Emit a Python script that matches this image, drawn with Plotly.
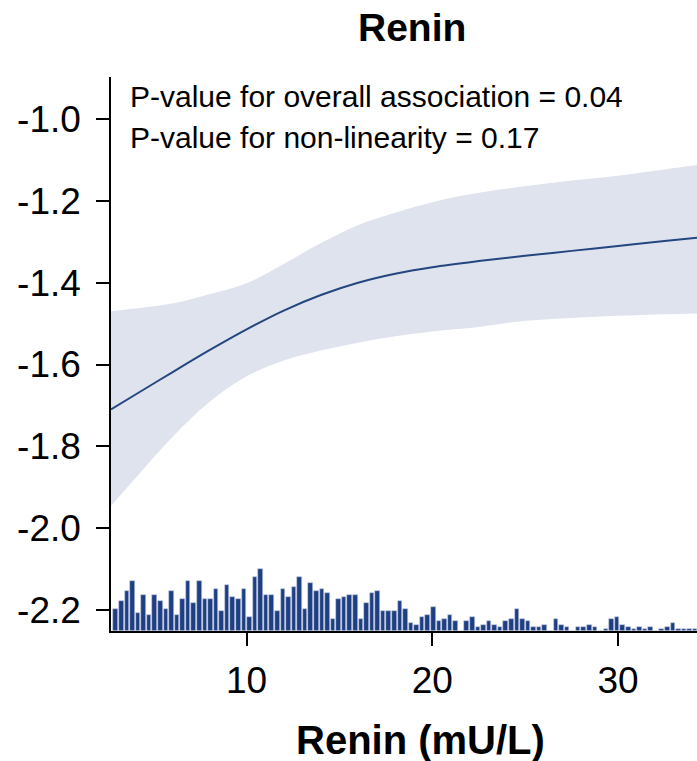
import numpy as np
import plotly.graph_objects as go

# Restricted cubic spline fit for renin (mU/L) with 95% CI
renin_grid = [2.7, 4, 6, 8, 10, 12, 14, 16, 18, 20, 22.5, 25, 27.5, 30, 32.5, 34.25]
fit = [-1.710, -1.674, -1.619, -1.565, -1.514, -1.468, -1.430, -1.400, -1.378,
       -1.362, -1.347, -1.334, -1.322, -1.310, -1.298, -1.290]
ci_upper = [-1.470, -1.463, -1.451, -1.428, -1.401, -1.354, -1.303, -1.259, -1.229,
            -1.203, -1.180, -1.164, -1.150, -1.138, -1.123, -1.112]
ci_lower = [-1.946, -1.879, -1.778, -1.692, -1.629, -1.590, -1.566, -1.547, -1.531,
            -1.519, -1.508, -1.493, -1.486, -1.481, -1.477, -1.475]

# Distribution of renin values (bins of 0.3 mU/L starting at 2.8)
bin_start = 2.8
bin_width = 0.3
counts = [11, 15, 20, 25, 9, 18, 8, 18, 15, 11, 20, 8, 16, 25, 14, 25,
          16, 16, 21, 10, 23, 17, 16, 21, 7, 27, 31, 18, 18, 10, 21, 17, 22, 27,
          11, 24, 20, 21, 19, 6, 16, 17, 18, 18, 6, 14, 19, 20, 10, 10, 10, 15,
          11, 4, 3, 7, 8, 12, 5, 6, 8, 5, 0, 5, 7, 2, 3, 5, 3, 2, 5, 6, 11, 6,
          5, 2, 2, 3, 0, 6, 3, 2, 0, 2, 2, 3, 2, 0, 1, 6, 7, 3, 2, 1, 2, 1, 2,
          0, 1, 2, 4, 1, 1, 1, 1]
bin_centers = bin_start + bin_width / 2 + bin_width * np.arange(len(counts))

y_ticks = [-2.2, -2.0, -1.8, -1.6, -1.4, -1.2, -1.0]
y_tick_text = ["-2.2", "-2.0", "-1.8", "-1.6", "-1.4", "-1.2", "-1.0"]
x_ticks = [10, 20, 30]

p_overall = "0.04"
p_nonlinear = "0.17"

FONT = "Liberation Sans, Arial, Helvetica, sans-serif"
NAVY = "#1f3f85"

fig = go.Figure()

fig.add_trace(go.Bar(
    x=bin_centers, y=counts, width=bin_width * 0.82,
    marker=dict(color=NAVY, line=dict(color="#c9d0e0", width=0.6)),
    yaxis="y2", hoverinfo="skip", showlegend=False,
))

fig.add_trace(go.Scatter(
    x=renin_grid, y=ci_upper, mode="lines", line=dict(width=0, shape="spline"),
    hoverinfo="skip", showlegend=False,
))
fig.add_trace(go.Scatter(
    x=renin_grid, y=ci_lower, mode="lines", line=dict(width=0, shape="spline"),
    fill="tonexty", fillcolor="#dfe3ee", hoverinfo="skip", showlegend=False,
))
fig.add_trace(go.Scatter(
    x=renin_grid, y=fit, mode="lines",
    line=dict(color="#24467f", width=2, shape="spline"),
    showlegend=False,
))

fig.update_layout(
    width=697, height=761,
    margin=dict(l=111, r=0, t=77, b=130),
    paper_bgcolor="white", plot_bgcolor="white",
    font=dict(family=FONT, color="black"),
    bargap=0,
    xaxis=dict(
        range=[2.70, 34.25], tickvals=x_ticks, ticks="outside", ticklen=13,
        tickwidth=1.5, tickcolor="black", showline=True, linecolor="black",
        linewidth=1.5, showgrid=False, zeroline=False,
        tickfont=dict(size=37, family=FONT), ticklabelstandoff=3,
    ),
    yaxis=dict(
        range=[-2.252, -0.8966], tickvals=y_ticks, ticktext=y_tick_text,
        ticks="outside", ticklen=13, tickwidth=1.5, tickcolor="black",
        showline=True, linecolor="black", linewidth=1.5, showgrid=False,
        zeroline=False, tickfont=dict(size=37, family=FONT),
        ticklabelstandoff=8,
    ),
    yaxis2=dict(
        overlaying="y", range=[0, 277], visible=False, fixedrange=True,
    ),
    annotations=[
        dict(text="<b>Renin</b>", xref="paper", yref="paper", x=0.513, y=1.090,
             xanchor="center", yanchor="middle", showarrow=False,
             font=dict(size=39, family=FONT)),
        dict(text="<b>Renin (mU/L)</b>", xref="paper", yref="paper", x=0.529,
             y=-0.197, xanchor="center", yanchor="middle", showarrow=False,
             font=dict(size=40, family=FONT)),
        dict(text=f"P-value for overall association = {p_overall}", xref="paper",
             yref="paper", x=0.029, y=0.9657, xanchor="left", yanchor="middle",
             showarrow=False, font=dict(size=30, family=FONT)),
        dict(text=f"P-value for non-linearity = {p_nonlinear}", xref="paper",
             yref="paper", x=0.029, y=0.8899, xanchor="left", yanchor="middle",
             showarrow=False, font=dict(size=30, family=FONT)),
    ],
)

fig.write_html("out.html")
